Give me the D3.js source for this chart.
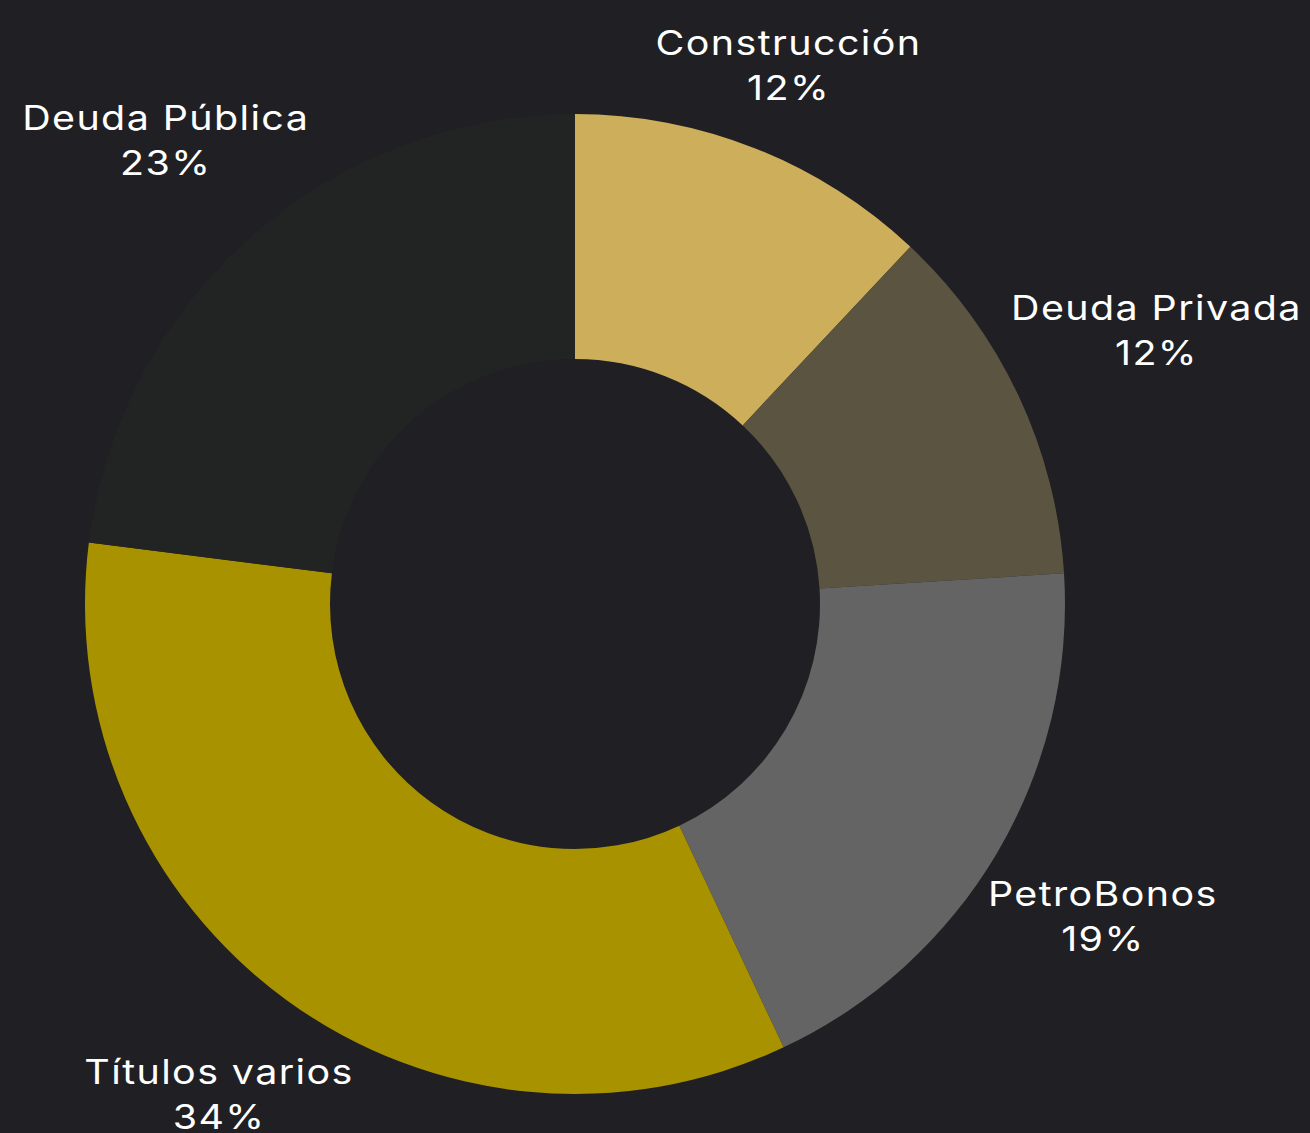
<!DOCTYPE html>
<html>
<head>
<meta charset="utf-8">
<script src="https://cdn.jsdelivr.net/npm/d3@7"></script>
<style>
html,body{margin:0;padding:0;background:#1f1f24;}
svg{display:block;}
.lbl{font-family:Inter,"Open Sans",sans-serif;font-size:34px;fill:#ffffff;letter-spacing:1.2px;}
</style>
</head>
<body>
<svg id="chart"></svg>
<script>
// datos del gráfico
var categories=["Construcción","Deuda Privada","PetroBonos","Títulos varios","Deuda Pública"];
var values=[12,12,19,34,23];
var colors=["#cdae5a","#5a5441","#646464","#a89200","#222423"];

var W=1310,H=1133;
var cx=575,cy=604,outer=490,inner=245,labelGap=4;
var stretch=1.16; // la fuente original es más ancha

var svg=d3.select("#chart").attr("width",W).attr("height",H);
var g=svg.append("g").attr("transform","translate("+cx+","+cy+")");

var data=categories.map(function(c,i){return {name:c,value:values[i],color:colors[i]};});
var pie=d3.pie().sort(null).value(function(d){return d.value;});
var arc=d3.arc().innerRadius(inner).outerRadius(outer);
var arcs=pie(data);

g.selectAll("path.slice")
 .data(arcs)
 .enter()
 .append("path")
 .attr("class","slice")
 .attr("d",arc)
 .attr("fill",function(d){return d.data.color;});

// etiquetas fuera del anillo, en la dirección del ángulo medio
var total=d3.sum(values);
arcs.forEach(function(d){
	var a=(d.startAngle+d.endAngle)/2;
	var t=g.append("text").attr("class","lbl").attr("text-anchor","middle");
	t.append("tspan").attr("x",0).attr("dy",0).text(d.data.name);
	t.append("tspan").attr("x",0).attr("dy",45).text(Math.round(d.value/total*100)+"%");
	var bb=t.node().getBBox();
	var hw=bb.width*stretch/2,hh=40;
	var r=outer+labelGap+hw*Math.abs(Math.sin(a))+hh*Math.abs(Math.cos(a));
	var px=r*Math.sin(a),py=-r*Math.cos(a);
	t.attr("transform","translate("+(px-(bb.x+bb.width/2)*stretch)+","+(py-22.5+12.5)+") scale("+stretch+",1)");
});
</script>
</body>
</html>
